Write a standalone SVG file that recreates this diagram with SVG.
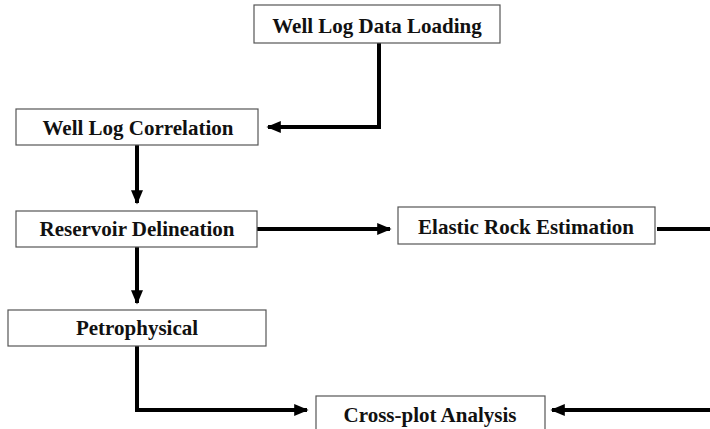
<svg xmlns="http://www.w3.org/2000/svg" width="710" height="429" viewBox="0 0 710 429">
<style>
.box{fill:#fff;stroke:#555;stroke-width:1.2}
.lbl{font-family:"Liberation Serif","Times New Roman",serif;font-weight:bold;font-size:21px;fill:#111;text-anchor:middle}
.con{fill:none;stroke:#000;stroke-width:4;stroke-linejoin:miter}
</style>
<defs>
<marker id="ah" markerWidth="4" markerHeight="4" refX="3.2" refY="2" orient="auto" markerUnits="strokeWidth">
<path d="M0,0.5 L3.6,2 L0,3.5 Z" fill="#000"/>
</marker>
</defs>
<rect width="710" height="429" fill="#fff"/>
<g id="connectors">
<polyline class="con" points="379,43 379,127 268,127" marker-end="url(#ah)"/>
<line class="con" x1="137" y1="145" x2="137" y2="203" marker-end="url(#ah)"/>
<line class="con" x1="257" y1="229" x2="390" y2="229" marker-end="url(#ah)"/>
<line class="con" x1="657" y1="229" x2="710" y2="229"/>
<line class="con" x1="137" y1="247" x2="137" y2="303" marker-end="url(#ah)"/>
<polyline class="con" points="137,346 137,410 307,410" marker-end="url(#ah)"/>
<line class="con" x1="710" y1="410" x2="552" y2="410" marker-end="url(#ah)"/>
</g>
<g id="n1"><rect class="box" x="254" y="5" width="246" height="38"/><text class="lbl" x="377" y="33">Well Log Data Loading</text></g>
<g id="n2"><rect class="box" x="16" y="109" width="242" height="36"/><text class="lbl" x="138" y="135">Well Log Correlation</text></g>
<g id="n3"><rect class="box" x="16" y="211" width="241" height="36"/><text class="lbl" x="137" y="236">Reservoir Delineation</text></g>
<g id="n4"><rect class="box" x="398" y="207" width="257" height="37"/><text class="lbl" x="526" y="234">Elastic Rock Estimation</text></g>
<g id="n5"><rect class="box" x="8" y="310" width="258" height="36"/><text class="lbl" x="137" y="335">Petrophysical</text></g>
<g id="n6"><rect class="box" x="316" y="396" width="229" height="40"/><text class="lbl" x="430" y="422">Cross-plot Analysis</text></g>
</svg>
